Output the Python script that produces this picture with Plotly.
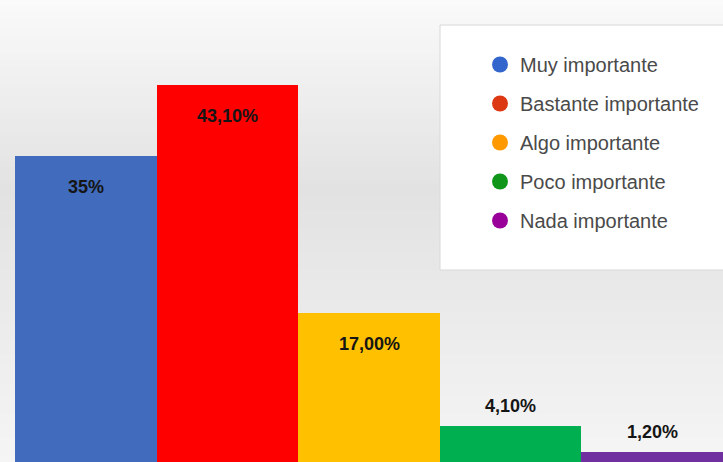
import plotly.graph_objects as go

categories = ["Muy importante", "Bastante importante", "Algo importante", "Poco importante", "Nada importante"]
values = [35.0, 43.1, 17.0, 4.1, 1.2]
value_labels = ["35%", "43,10%", "17,00%", "4,10%", "1,20%"]
bar_colors = ["#416CBD", "#FF0000", "#FFC000", "#00B050", "#7030A0"]
legend_colors = ["#3366CC", "#DC3912", "#FF9900", "#109618", "#990099"]

fig = go.Figure()
fig.add_trace(go.Bar(
    x=categories, y=values,
    marker=dict(color=bar_colors, line=dict(width=0)),
    showlegend=False, hoverinfo="skip",
))

for i, (cat, col) in enumerate(zip(categories, legend_colors)):
    fig.add_trace(go.Scatter(
        x=[None], y=[None], mode="markers", name=cat,
        marker=dict(color=col, size=16, symbol="circle"),
        legendgroup=f"g{i}",
    ))

for cat, v, lab in zip(categories, values, value_labels):
    inside = v > 10
    fig.add_annotation(
        x=cat, y=v, text=f"<b>{lab}</b>", showarrow=False,
        yshift=-31 if inside else 20,
        font=dict(family="Liberation Sans, Arial, sans-serif", size=18, color="#151515"),
    )

# background gradient bands
shapes = []
H = 462
n = 77
def bg(yy):
    if yy < 190:
        t = yy / 190
        c = 250 + (226 - 250) * t
    else:
        t = (yy - 190) / (H - 190)
        c = 226 + (245 - 226) * t
    c = int(round(c))
    return f"rgb({c},{c},{c})"
for k in range(n):
    y_top = k * H / n
    y_bot = (k + 1) * H / n
    shapes.append(dict(
        type="rect", xref="paper", yref="paper", layer="below",
        x0=-0.03, x1=1.01, y0=1 - y_bot / H - 0.001, y1=1 - y_top / H + 0.001,
        fillcolor=bg((y_top + y_bot) / 2), line=dict(width=0),
    ))
# legend box
pw = 723 - 15
shapes.append(dict(
    type="rect", xref="paper", yref="paper", layer="below",
    x0=(440 - 15) / pw, x1=1.01, y0=1 - 270 / H, y1=1 - 25 / H,
    fillcolor="white", line=dict(width=1, color="#d8d8d8"),
))

fig.update_layout(
    width=723, height=462,
    margin=dict(l=15, r=0, t=0, b=0),
    paper_bgcolor="#eeeeee", plot_bgcolor="rgba(0,0,0,0)",
    bargap=0,
    shapes=shapes,
    xaxis=dict(visible=False, range=[-0.5, 4.5]),
    yaxis=dict(visible=False, range=[0, 52.8]),
    legend=dict(
        x=(480 - 15) / pw, xanchor="left", y=1 - 45 / H, yanchor="top",
        bgcolor="rgba(0,0,0,0)", traceorder="grouped", tracegroupgap=10,
        font=dict(family="Liberation Sans, Arial, sans-serif", size=20, color="#4a4a4a"),
        itemsizing="trace",
    ),
)

fig.write_html("out.html", config={"displayModeBar": False},
               post_script="document.body.style.margin='0';document.body.style.padding='0';")
